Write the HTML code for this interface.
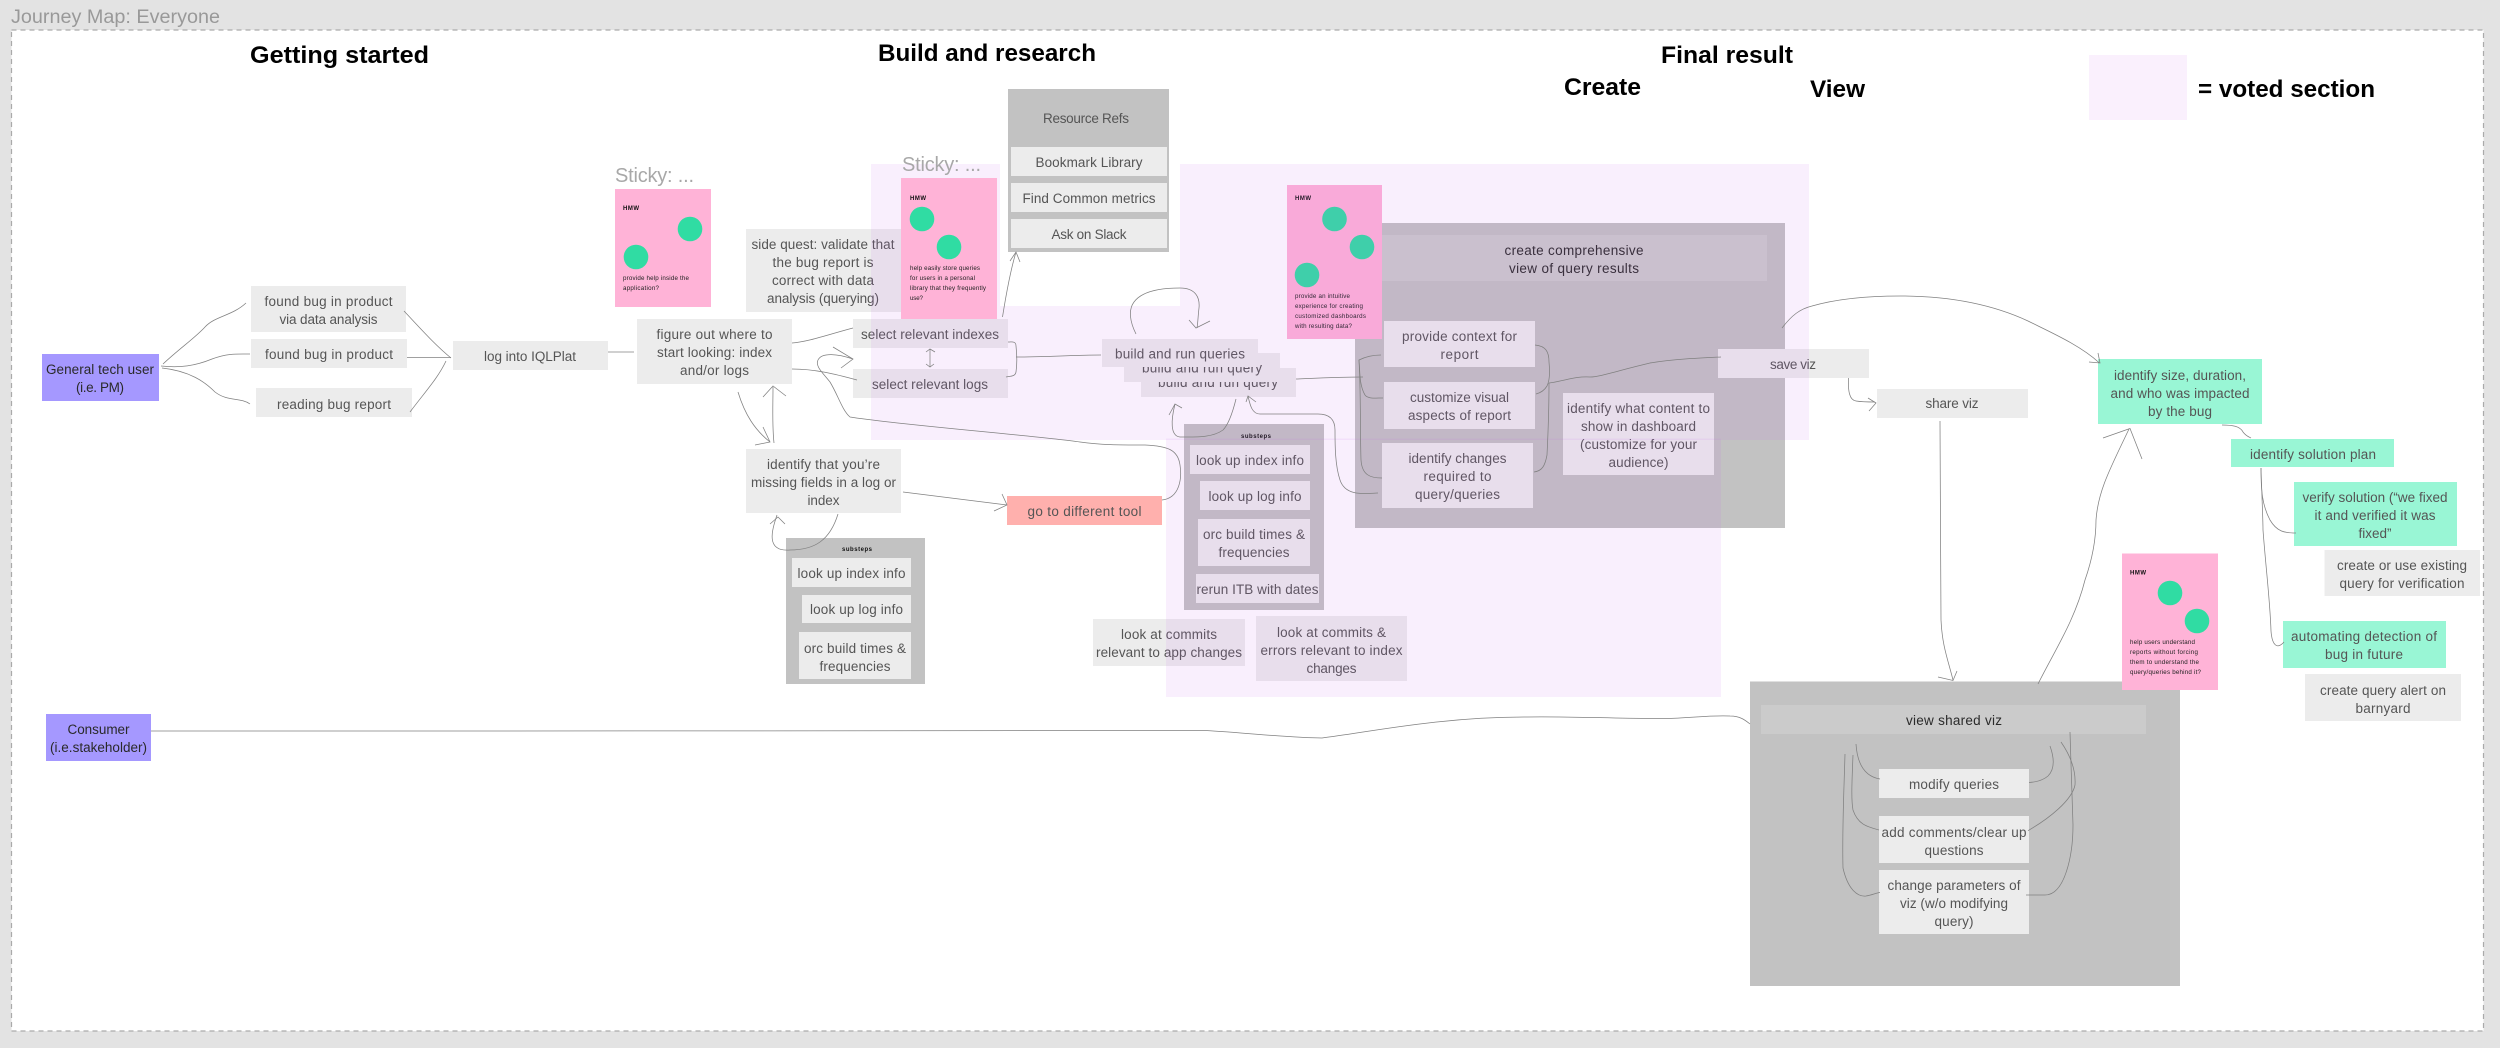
<!DOCTYPE html>
<html><head><meta charset="utf-8"><title>Journey Map: Everyone</title>
<style>
html,body{margin:0;padding:0;background:#e3e3e3;width:2500px;height:1048px;overflow:hidden}
svg{display:block}
text{font-family:"Liberation Sans",sans-serif;font-size:13.5px;fill:#555;text-anchor:middle}
.h{font-weight:bold;font-size:24px;fill:#000;text-anchor:start}
.s{font-size:6.2px;fill:#222;text-anchor:start}
.hm{font-size:6px;font-weight:bold;fill:#111;text-anchor:start}
.st{font-size:20px;fill:#a8a8a8;text-anchor:start}
.dk{fill:#2a2a2a}
.b{fill:#ececec}.g{fill:#c2c2c2}.hd{fill:#cbcbcb}.m{fill:#99f6d5}.p{fill:#a598ff}
.pk{fill:#ffb3d7}.c{fill:#30dca3}
.v{fill:rgb(200,100,235);fill-opacity:.1}
.l path,.l polyline{fill:none;stroke:#808080;stroke-width:.75}
</style></head><body>
<svg width="2500" height="1048" viewBox="0 0 2500 1048" xmlns="http://www.w3.org/2000/svg">
<rect width="2500" height="1048" fill="#e3e3e3"/>
<text x="11" y="23" class="st" style="font-size:19px;fill:#999" textLength="209" lengthAdjust="spacingAndGlyphs">Journey Map: Everyone</text>
<rect x="11.5" y="30" width="2472" height="1001" fill="#fff" stroke="#aaa" stroke-width="1.2" stroke-dasharray="5 4"/>

<text x="250" y="63" class="h" textLength="179" lengthAdjust="spacingAndGlyphs">Getting started</text>
<text x="878" y="61" class="h" textLength="218" lengthAdjust="spacingAndGlyphs">Build and research</text>
<text x="1661" y="63" class="h" textLength="132" lengthAdjust="spacingAndGlyphs">Final result</text>
<text x="1564" y="95" class="h" textLength="77" lengthAdjust="spacingAndGlyphs">Create</text>
<text x="1810" y="97" class="h" textLength="55" lengthAdjust="spacingAndGlyphs">View</text>
<rect x="2089" y="55" width="98" height="65" fill="#faf0fd"/>
<text x="2198" y="97" class="h" textLength="177" lengthAdjust="spacingAndGlyphs">= voted section</text>

<!-- left column -->
<rect x="42" y="354" width="117" height="47" class="p"/>
<text x="100" y="374" class="dk" textLength="108">General tech user</text>
<text x="100" y="392" class="dk" textLength="48">(i.e. PM)</text>
<rect x="46" y="714" width="105" height="47" class="p"/>
<text x="98.500" y="734" class="dk" textLength="62">Consumer</text>
<text x="98.500" y="752" class="dk" textLength="97">(i.e.stakeholder)</text>

<rect x="251" y="286" width="155" height="46" class="b"/>
<text x="328.500" y="306" textLength="128">found bug in product</text>
<text x="328.500" y="324" textLength="98">via data analysis</text>
<rect x="251" y="339" width="156" height="29" class="b"/>
<text x="329" y="359" textLength="128">found bug in product</text>
<rect x="256" y="388" width="156" height="29" class="b"/>
<text x="334" y="409" textLength="114">reading bug report</text>
<rect x="453" y="341" width="155" height="29" class="b"/>
<text x="530" y="361" textLength="92">log into IQLPlat</text>
<rect x="637" y="319" width="155" height="65" class="b"/>
<text x="714.500" y="339" textLength="116">figure out where to</text>
<text x="714.500" y="357" textLength="115">start looking: index</text>
<text x="714.500" y="375" textLength="69">and/or logs</text>

<!-- sticky 1 -->
<text x="615" y="182" class="st" textLength="79">Sticky: ...</text>
<rect x="615" y="189" width="96" height="118" class="pk"/>
<text x="623" y="210" class="hm" textLength="16">HMW</text>
<circle cx="690" cy="229" r="12.300" class="c"/><circle cx="636" cy="257" r="12.300" class="c"/>
<text x="623" y="280" class="s" textLength="66">provide help inside the</text>
<text x="623" y="290" class="s" textLength="36">application?</text>

<rect x="746" y="229" width="155" height="83" class="b"/>
<text x="823" y="249" textLength="143">side quest: validate that</text>
<text x="823" y="267" textLength="101">the bug report is</text>
<text x="823" y="285" textLength="102">correct with data</text>
<text x="823" y="303" textLength="112">analysis (querying)</text>

<rect x="746" y="449" width="155" height="64" class="b"/>
<text x="823.500" y="469" textLength="113">identify that you’re</text>
<text x="823.500" y="487" textLength="145">missing fields in a log or</text>
<text x="823.500" y="505" textLength="32">index</text>

<rect x="786" y="538" width="139" height="146" class="g"/>
<text x="857" y="551" class="hm" style="text-anchor:middle" textLength="30">substeps</text>
<rect x="792" y="558" width="119" height="29" class="b"/>
<text x="851.500" y="578" textLength="108">look up index info</text>
<rect x="802" y="595" width="109" height="28" class="b"/>
<text x="856.500" y="614" textLength="93">look up log info</text>
<rect x="799" y="632" width="112" height="47" class="b"/>
<text x="855" y="653" textLength="102">orc build times &amp;</text>
<text x="855" y="671" textLength="71">frequencies</text>

<rect x="853" y="319" width="155" height="29" class="b"/>
<text x="930" y="339" textLength="138">select relevant indexes</text>
<rect x="853" y="369" width="155" height="29" class="b"/>
<text x="930" y="389" textLength="116">select relevant logs</text>

<!-- resource refs -->
<rect x="1008" y="89" width="161" height="163" class="g"/>
<text x="1086" y="123" textLength="86">Resource Refs</text>
<rect x="1011" y="147" width="156" height="29" class="b"/>
<text x="1089" y="167" textLength="107">Bookmark Library</text>
<rect x="1011" y="183" width="156" height="29" class="b"/>
<text x="1089" y="203" textLength="133">Find Common metrics</text>
<rect x="1011" y="219" width="156" height="29" class="b"/>
<text x="1089" y="239" textLength="75">Ask on Slack</text>

<rect x="1007" y="496" width="155" height="29" fill="#ffb0ad"/>
<text x="1084.500" y="516" textLength="114">go to different tool</text>

<!-- build stack -->
<rect x="1141" y="368" width="155" height="29" class="b"/>
<text x="1218" y="387" textLength="120">build and run query</text>
<rect x="1124" y="353" width="156" height="29" class="b"/>
<text x="1202" y="372.700" textLength="120">build and run query</text>
<rect x="1102" y="339" width="156" height="28" class="b"/>
<text x="1180" y="358.500" textLength="130">build and run queries</text>

<!-- right substeps -->
<rect x="1184" y="424" width="140" height="186" class="g"/>
<text x="1256" y="438" class="hm" style="text-anchor:middle" textLength="30">substeps</text>
<rect x="1190" y="445" width="120" height="29" class="b"/>
<text x="1250" y="465" textLength="108">look up index info</text>
<rect x="1200" y="481" width="110" height="29" class="b"/>
<text x="1255" y="501" textLength="93">look up log info</text>
<rect x="1198" y="519" width="112" height="47" class="b"/>
<text x="1254" y="539" textLength="102">orc build times &amp;</text>
<text x="1254" y="557" textLength="71">frequencies</text>
<rect x="1196" y="574" width="123" height="29" class="b"/>
<text x="1257.500" y="594" textLength="122">rerun ITB with dates</text>

<rect x="1093" y="619" width="152" height="47" class="b"/>
<text x="1169" y="639" textLength="96">look at commits</text>
<text x="1169" y="657" textLength="146">relevant to app changes</text>
<rect x="1256" y="616" width="151" height="65" class="b"/>
<text x="1331.500" y="637" textLength="109">look at commits &amp;</text>
<text x="1331.500" y="655" textLength="142">errors relevant to index</text>
<text x="1331.500" y="673" textLength="50">changes</text>

<!-- create group -->
<rect x="1355" y="223" width="430" height="305" class="g"/>
<rect x="1375" y="235" width="392" height="46" class="hd"/>
<text x="1574" y="255" class="dk" textLength="139">create comprehensive</text>
<text x="1574" y="273" class="dk" textLength="130">view of query results</text>
<rect x="1287" y="185" width="95" height="154" class="pk"/>
<text x="1295" y="200" class="hm" textLength="16">HMW</text>
<circle cx="1334.500" cy="219" r="12.300" class="c"/><circle cx="1362" cy="247" r="12.300" class="c"/><circle cx="1307" cy="275" r="12.300" class="c"/>
<text x="1295" y="298" class="s" textLength="55">provide an intuitive</text>
<text x="1295" y="308" class="s" textLength="68">experience for creating</text>
<text x="1295" y="318" class="s" textLength="71">customized dashboards</text>
<text x="1295" y="328" class="s" textLength="57">with resulting data?</text>
<rect x="1384" y="321" width="151" height="46" class="b"/>
<text x="1459.500" y="341" textLength="115">provide context for</text>
<text x="1459.500" y="359" textLength="38">report</text>
<rect x="1384" y="382" width="151" height="47" class="b"/>
<text x="1459.500" y="402" textLength="99">customize visual</text>
<text x="1459.500" y="420" textLength="103">aspects of report</text>
<rect x="1382" y="443" width="151" height="65" class="b"/>
<text x="1457.500" y="463" textLength="98">identify changes</text>
<text x="1457.500" y="481" textLength="68">required to</text>
<text x="1457.500" y="499" textLength="85">query/queries</text>
<rect x="1563" y="393" width="151" height="82" class="b"/>
<text x="1638.500" y="413" textLength="143">identify what content to</text>
<text x="1638.500" y="431" textLength="115">show in dashboard</text>
<text x="1638.500" y="449" textLength="117">(customize for your</text>
<text x="1638.500" y="467" textLength="60">audience)</text>
<rect x="1718" y="349" width="151" height="29" class="b"/>
<text x="1793" y="369" textLength="46">save viz</text>

<!-- voted overlays -->
<path class="v" d="M871 164H1000V306H1180V164H1809V440H871Z"/>
<rect x="1166" y="438.500" width="555" height="258.500" class="v"/>

<!-- sticky 2 above overlay -->
<text x="902" y="171" class="st" textLength="79">Sticky: ...</text>
<rect x="901" y="178" width="96" height="141" class="pk"/>
<text x="910" y="200" class="hm" textLength="16">HMW</text>
<circle cx="922" cy="219" r="12.300" class="c"/><circle cx="949" cy="247" r="12.300" class="c"/>
<text x="910" y="270" class="s" textLength="70">help easily store queries</text>
<text x="910" y="280" class="s" textLength="65">for users in a personal</text>
<text x="910" y="290" class="s" textLength="76">library that they frequently</text>
<text x="910" y="300" class="s" textLength="13">use?</text>

<!-- right side -->
<rect x="1877" y="389" width="151" height="29" class="b"/>
<text x="1952" y="408" textLength="53">share viz</text>
<rect x="2098" y="359" width="164" height="65" class="m"/>
<text x="2180" y="380" textLength="132">identify size, duration,</text>
<text x="2180" y="398" textLength="139">and who was impacted</text>
<text x="2180" y="416" textLength="64">by the bug</text>
<rect x="2231" y="439" width="163" height="28" class="m"/>
<text x="2313" y="459" textLength="126">identify solution plan</text>
<rect x="2294" y="482" width="163" height="64" class="m"/>
<text x="2375" y="502" textLength="145">verify solution (“we fixed</text>
<text x="2375" y="520" textLength="121">it and verified it was</text>
<text x="2375" y="538" textLength="33">fixed”</text>
<rect x="2324.500" y="550" width="155.500" height="46" class="b"/>
<text x="2402" y="570" textLength="130">create or use existing</text>
<text x="2402" y="588" textLength="125">query for verification</text>
<rect x="2283" y="621" width="163" height="47" class="m"/>
<text x="2364" y="641" textLength="146">automating detection of</text>
<text x="2364" y="659" textLength="78">bug in future</text>
<rect x="2305" y="674" width="156" height="47" class="b"/>
<text x="2383" y="695" textLength="126">create query alert on</text>
<text x="2383" y="713" textLength="55">barnyard</text>

<!-- view group -->
<rect x="1750" y="681.500" width="430" height="304.500" class="g"/>
<rect x="1761" y="705" width="385" height="29" class="hd"/>
<text x="1954" y="725" class="dk" textLength="96">view shared viz</text>
<rect x="1879" y="769" width="150" height="29" class="b"/>
<text x="1954" y="789" textLength="90">modify queries</text>
<rect x="1879" y="816" width="150" height="47" class="b"/>
<text x="1954" y="837" textLength="145">add comments/clear up</text>
<text x="1954" y="855" textLength="59">questions</text>
<rect x="1879" y="870" width="150" height="64" class="b"/>
<text x="1954" y="890" textLength="133">change parameters of</text>
<text x="1954" y="908" textLength="108">viz (w/o modifying</text>
<text x="1954" y="926" textLength="39">query)</text>

<!-- sticky 4 -->
<rect x="2122" y="553.500" width="96" height="136.500" class="pk"/>
<text x="2130" y="574.500" class="hm" textLength="16">HMW</text>
<circle cx="2170" cy="593" r="12.300" class="c"/><circle cx="2197" cy="621" r="12.300" class="c"/>
<text x="2130" y="644" class="s" textLength="65">help users understand</text>
<text x="2130" y="654" class="s" textLength="68">reports without forcing</text>
<text x="2130" y="664" class="s" textLength="69">them to understand the</text>
<text x="2130" y="674" class="s" textLength="71">query/queries behind it?</text>

<!-- connectors -->
<g class="l">
<path d="M163 364C180 348 195 338 205 327C215 316 232 316 246 303"/>
<path d="M161 366C180 368 195 366 212 359C228 353 238 354 250 354"/>
<path d="M162 368C190 371 205 382 215 392C228 402 240 397 250 404"/>
<path d="M404 311C420 328 435 345 451 358"/>
<path d="M407 357.500H451"/>
<path d="M410 412C425 392 438 378 446 361"/>
<path d="M608 352H634"/>
<path d="M792 343C808 342 830 334 853 328"/>
<path d="M792 369C815 369 835 374 857 380"/>
<path d="M1162 500C1180 498 1182 478 1180 465C1178 450 1168 446 1145 445C1120 445 1100 445 1080 442C1030 435 900 425 850 417C842 410 838 395 830 382C822 372 815 366 818 360C822 352 838 354 853 359"/>
<polyline points="833,347 853,359 841,368"/>
<path d="M930 349V367"/>
<polyline points="926,352 930,349 935,352"/><polyline points="926,364 930,367 934,364"/>
<path d="M738 392C745 415 755 430 770 442"/>
<polyline points="755,445 770,442 763,427"/>
<path d="M774 443C772 425 773 405 773 387"/>
<polyline points="763,397 773,386 786,396"/>
<path d="M903 492L1007 505"/>
<polyline points="1002,494 1007,505 994,511"/>
<path d="M838 514C830 540 815 550 790 550C765 552 772 530 777 515"/>
<polyline points="770,524 778,517 785,524"/>
<path d="M1002.500 317C1006 295 1010 272 1016 252"/>
<polyline points="1010,261 1016,252 1020,262"/>
<path d="M1008 342C1012 342 1016 341 1016 346C1017 355 1017 365 1016 372C1015 377 1010 376 1006 377"/>
<path d="M1016 357C1045 357 1075 355 1101 355"/>
<path d="M1136 334C1130 322 1128 310 1134 302C1142 291 1160 288 1180 288C1196 288 1200 298 1199 308C1198 316 1198 322 1197 328"/>
<polyline points="1189,320 1196,328 1210,321"/>
<path d="M1296 379C1320 378 1340 377 1363 377"/>
<path d="M1236 399C1232 415 1228 425 1223 430C1212 438 1195 437 1180 437C1170 436 1171 420 1175 404"/>
<polyline points="1169,415 1175,404 1182,408"/>
<path d="M1378 493C1360 494 1345 495 1340 480C1335 465 1335 445 1335 430C1335 418 1328 414 1318 414C1295 414 1275 414 1260 414C1252 414 1250 405 1248 396"/>
<polyline points="1246,402 1248,396 1256,402"/>
<path d="M1381 355C1372 355 1365 357 1359 360C1360 370 1359 385 1365 395C1368 399 1375 398 1383 398"/>
<path d="M1359 360C1361 395 1360 430 1361 460C1362 475 1370 478 1382 478"/>
<path d="M1535 345C1546 346 1549 352 1549 362C1550 372 1550 380 1547 386C1544 391 1540 393 1536 394"/>
<path d="M1549 383C1549 410 1548 435 1547 455C1545 466 1542 471 1534 472"/>
<path d="M1549 383C1565 381 1575 376 1590 377C1600 377 1620 370 1650 363C1675 359 1700 358 1721 357"/>
<path d="M1782 328C1792 315 1800 309 1812 306C1840 298 1870 296 1900 296C1960 296 2000 308 2028 321C2050 332 2080 345 2099.500 363"/>
<polyline points="2089,362 2100,363 2098,353"/>
<path d="M1848.500 378C1848 390 1849 400 1856 401C1862 402 1868 402 1875 402"/>
<polyline points="1868,398 1876,403 1869,411"/>
<path d="M1940 421C1940 480 1941 570 1941 620C1942 645 1948 660 1953 680"/>
<polyline points="1938,677 1953,680.500 1957,671"/>
<path d="M2038 684C2055 650 2075 620 2085 580C2092 560 2096 540 2096 520C2098 490 2112 465 2129 429"/>
<polyline points="2103,438 2130,428.500 2142,459"/>
<path d="M2222 425C2232 425 2240 426 2243 432C2246 436 2249 437 2251 438"/>
<path d="M2261 468C2261 490 2262 505 2270 520C2277 532 2285 533 2296 533"/>
<path d="M2261 468C2262 500 2263 520 2263 530C2266 570 2270 600 2271 631C2272 645 2277 650 2284 642"/>
<path d="M151 731C400 731 900 731 1205 730.500C1250 733 1290 738 1322 738C1370 732 1440 717 1524 717C1570 716 1620 719 1666 718.500C1690 718 1710 715 1730 716C1740 716 1745 720 1750 724"/>
<path d="M1856 744C1857 760 1862 776 1880 779"/>
<path d="M1853 755C1852 780 1851 800 1853 810C1858 825 1868 827 1879 830"/>
<path d="M1845 754C1844 790 1842 830 1843 868C1848 890 1858 897 1866 896C1872 895 1876 893 1880 892.500"/>
<path d="M2050 746C2055 760 2054 770 2048 776C2042 781 2035 782 2029 782.500"/>
<path d="M2061 742C2070 755 2076 770 2075 785C2072 800 2050 818 2028 830.700"/>
<path d="M2070 732C2071 765 2072 800 2073 825C2073 855 2065 895 2045 895C2038 895 2032 895 2026 895"/>
</g>
</svg>
</body></html>
